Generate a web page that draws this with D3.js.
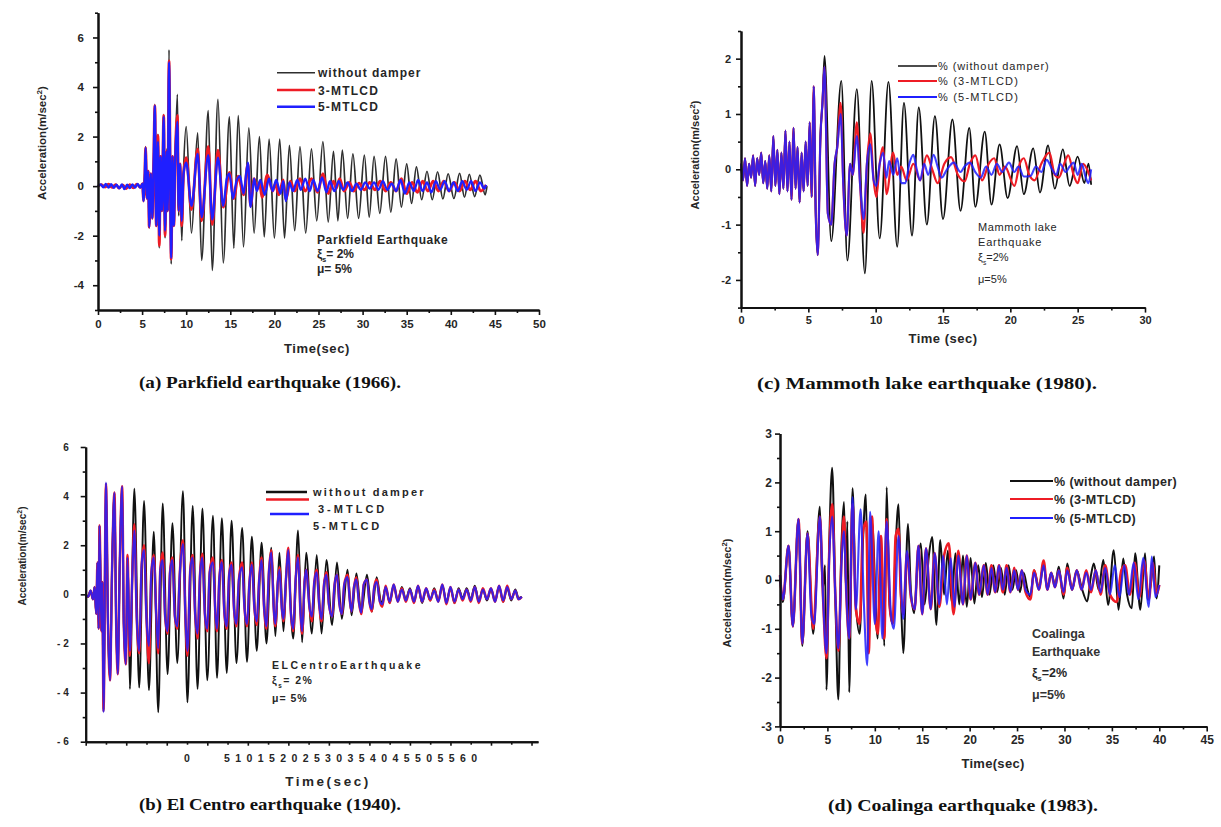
<!DOCTYPE html>
<html><head><meta charset="utf-8">
<script src="https://cdn.jsdelivr.net/npm/d3@7"></script>
<style>
body{margin:0;background:#fff;}
svg text{font-family:"Liberation Sans",Arial,sans-serif;}
svg text.caption{font-family:"Liberation Serif","Times New Roman",serif;}
</style></head><body>
<script>
// ---------- Parkfield earthquake (1966): [time s, acceleration m/s^2] ----------
const parkfieldBare = [[0,0],[0.4,0.06],[0.8,-0.04],[1.2,0.08],[1.6,-0.05],[2.0,0.06],[2.4,-0.08],[2.8,0.05],[3.2,-0.1],[3.6,0.06],[4.0,-0.07],[4.4,0.08],[4.8,-0.05],[5.05,0.1],[5.15,-0.6],[5.3,0.4],[5.4,1.6],[5.55,-0.5],[5.7,0.6],[5.8,-1.7],[6.0,0.5],[6.15,-1.3],[6.3,0.8],[6.45,3.3],[6.6,-1.6],[6.8,2.1],[6.95,-2.5],[7.1,1.2],[7.25,-1.0],[7.45,2.9],[7.6,-2.1],[7.8,1.5],[7.9,-1.0],[8.05,5.5],[8.3,-3.15],[8.45,1.2],[8.6,-1.6],[8.75,1.0],[9.0,3.7],[9.15,-1.2],[9.3,0.8],[9.5,-2.2],[9.7,0.6],[10.0,2.4],[10.6,-1.9],[11.3,2.15],[11.75,-3.0],[12.5,3.05],[12.95,-3.4],[13.6,3.5],[14.2,-3.1],[14.9,2.8],[15.4,-2.5],[15.9,2.85],[16.5,-2.45],[17.1,2.35],[17.7,-1.9],[18.3,2.0],[18.85,-2.05],[19.4,1.9],[20.0,-2.1],[20.6,1.9],[21.15,-2.1],[21.7,1.65],[22.3,-1.8],[22.9,1.6],[23.55,-1.9],[24.2,1.5],[24.8,-1.4],[25.5,1.8],[26.1,-1.45],[26.7,1.4],[27.2,-1.4],[27.7,1.45],[28.3,-1.3],[28.9,1.3],[29.55,-1.3],[30.2,1.25],[30.75,-1.25],[31.3,1.2],[31.95,-1.1],[32.6,1.2],[33.2,-1.05],[33.8,1.1],[34.4,-0.85],[35.0,0.9],[35.55,-0.7],[36.1,0.78],[36.7,-0.55],[37.3,0.6],[37.9,-0.55],[38.5,0.58],[39.1,-0.52],[39.7,0.5],[40.35,-0.5],[41.0,0.52],[41.55,-0.45],[42.1,0.48],[42.7,-0.42],[43.3,0.44],[43.9,-0.35],[44.1,0.0]];
const parkfield3 = [[0,0],[0.4,0.06],[0.8,-0.04],[1.2,0.08],[1.6,-0.05],[2.0,0.06],[2.4,-0.08],[2.8,0.05],[3.2,-0.1],[3.6,0.06],[4.0,-0.07],[4.4,0.08],[4.8,-0.05],[5.05,0.1],[5.15,-0.6],[5.3,0.4],[5.4,1.55],[5.55,-0.5],[5.7,0.6],[5.8,-1.65],[6.0,0.5],[6.15,-1.3],[6.3,0.8],[6.45,3.25],[6.6,-1.6],[6.8,2.05],[6.95,-2.4],[7.1,1.2],[7.25,-1.0],[7.45,2.85],[7.6,-2.0],[7.8,1.4],[7.9,-1.0],[8.05,5.05],[8.3,-2.95],[8.45,1.2],[8.6,-1.6],[8.75,1.0],[9.0,2.85],[9.15,-1.0],[9.3,0.9],[9.5,-1.6],[9.7,0.5],[10.0,1.15],[10.6,-0.95],[11.3,1.5],[11.75,-1.4],[12.5,1.6],[12.95,-1.55],[13.6,1.45],[14.2,-0.85],[14.9,0.55],[15.4,-0.5],[15.9,0.4],[16.5,-0.35],[17.0,0.9],[17.3,-0.8],[17.7,0.3],[18.1,-0.1],[18.3,0.15],[18.6,-0.45],[19.2,0.45],[19.8,-0.2],[20.1,0.1],[20.5,-0.35],[21.0,0.25],[21.3,-0.55],[21.8,0.2],[22.3,-0.2],[22.9,0.3],[23.5,-0.2],[24.2,0.3],[24.9,-0.25],[25.5,0.5],[26.1,-0.3],[26.7,0.2],[27.0,-0.1],[27.4,0.3],[27.9,-0.2],[28.5,0.15],[29.0,-0.2],[29.6,0.12],[30.2,-0.15],[30.8,0.15],[31.4,-0.15],[32.0,0.2],[32.6,-0.2],[33.2,0.15],[33.8,-0.2],[34.4,0.3],[35.0,-0.3],[35.6,0.15],[36.2,-0.25],[36.8,0.2],[37.4,-0.2],[38.0,0.2],[38.6,-0.2],[39.2,0.2],[39.8,-0.2],[40.4,0.15],[41.0,-0.2],[41.6,0.2],[42.2,-0.15],[42.8,0.2],[43.4,-0.2],[44.0,0.05]];
const parkfield5 = [[0,0],[0.3,0.07],[0.6,-0.05],[0.9,0.09],[1.2,-0.06],[1.5,0.08],[1.8,-0.07],[2.1,0.06],[2.4,-0.09],[2.7,0.07],[3.0,-0.12],[3.3,0.06],[3.6,-0.08],[3.9,0.07],[4.2,-0.06],[4.5,0.09],[4.8,-0.06],[5.05,0.1],[5.15,-0.6],[5.3,0.4],[5.4,1.55],[5.55,-0.5],[5.7,0.6],[5.8,-1.65],[6.0,0.5],[6.15,-1.3],[6.3,0.8],[6.45,3.25],[6.6,-1.6],[6.8,1.8],[6.95,-2.0],[7.1,1.2],[7.25,-1.0],[7.45,2.8],[7.6,-1.8],[7.8,1.4],[7.9,-1.0],[8.05,5.0],[8.3,-2.9],[8.45,1.2],[8.6,-1.6],[8.75,1.0],[9.0,2.6],[9.15,-1.0],[9.3,0.9],[9.5,-1.4],[9.7,0.5],[10.0,0.95],[10.6,-0.8],[11.3,1.3],[11.75,-1.25],[12.5,1.25],[12.95,-1.35],[13.6,1.15],[14.2,-0.8],[14.6,0.3],[14.9,0.5],[15.3,-0.5],[15.7,0.2],[16.1,0.4],[16.5,-0.3],[17.0,0.95],[17.3,-0.85],[17.7,0.3],[18.0,-0.2],[18.4,0.25],[18.9,-0.35],[19.4,0.3],[19.8,-0.2],[20.2,0.25],[20.7,-0.3],[21.0,0.2],[21.3,-0.6],[21.7,0.15],[22.1,-0.2],[22.6,0.25],[23.0,-0.15],[23.5,0.3],[24.0,-0.2],[24.4,0.25],[24.9,-0.2],[25.4,0.35],[25.9,-0.25],[26.3,0.2],[26.8,-0.2],[27.3,0.2],[27.8,-0.15],[28.3,0.15],[28.8,-0.2],[29.3,0.1],[29.8,-0.15],[30.3,0.15],[30.8,-0.1],[31.3,0.15],[31.8,-0.15],[32.3,0.2],[32.8,-0.15],[33.3,0.1],[33.8,-0.2],[34.3,0.25],[34.8,-0.3],[35.3,0.15],[35.8,-0.2],[36.3,0.25],[36.8,-0.2],[37.3,0.15],[37.8,-0.25],[38.3,0.2],[38.8,-0.15],[39.3,0.2],[39.8,-0.2],[40.3,0.15],[40.8,-0.2],[41.3,0.2],[41.8,-0.15],[42.3,0.2],[42.8,-0.2],[43.3,0.15],[43.8,-0.1],[44.0,0.05]];
const parkfieldXTicks = [0,5,10,15,20,25,30,35,40,45,50];
const parkfieldYTicks = [-4,-2,0,2,4,6];

// ---------- El Centro earthquake (1940) ----------
const elCentroBare = [[0,0],[0.3,-0.1],[0.6,0.15],[0.9,-0.2],[1.1,0.3],[1.3,-0.8],[1.45,1.3],[1.6,-1.4],[1.7,2.8],[1.95,-1.5],[2.05,0.5],[2.2,-4.7],[2.5,4.4],[2.75,-1.2],[3.0,-3.5],[3.25,1.0],[3.55,4.1],[3.75,-1.0],[3.95,-3.2],[4.2,1.2],[4.5,4.3],[4.7,-1.2],[4.95,-2.8],[5.2,1.4],[5.45,-3.85],[6.0,4.3],[6.6,-3.8],[7.2,3.8],[7.8,-3.9],[8.4,2.55],[8.95,-4.8],[9.5,3.7],[10.1,-3.25],[10.7,2.9],[11.3,-2.8],[12.0,4.2],[12.55,-4.4],[13.2,3.6],[13.8,-3.85],[14.4,3.5],[15.0,-3.5],[15.7,3.2],[16.2,-3.4],[16.8,3.1],[17.4,-3.2],[18.0,3.0],[18.6,-2.8],[19.3,2.7],[19.9,-2.75],[20.5,2.35],[21.1,-2.3],[21.7,2.1],[22.3,-2.0],[22.9,1.9],[23.4,-1.7],[23.9,1.7],[24.4,-1.5],[24.9,1.5],[25.6,-1.8],[26.2,2.6],[26.7,-1.95],[27.2,1.7],[27.9,-1.6],[28.5,1.6],[29.1,-1.6],[29.7,1.4],[30.4,-1.25],[31.0,1.3],[31.6,-1.0],[32.3,1.0],[32.8,-0.85],[33.4,0.85],[34.0,-0.75],[34.7,0.8],[35.3,-0.7],[35.9,0.7],[36.5,-0.4],[37.0,0.3],[37.5,-0.35],[38.0,0.35],[38.5,-0.25],[39.0,0.3],[39.5,-0.2],[40.0,0.25],[40.5,-0.3],[41.0,0.3],[41.5,-0.35],[42.0,0.2],[42.5,-0.25],[43.0,0.25],[43.5,-0.25],[44.0,0.35],[44.5,-0.3],[45.0,0.25],[45.5,-0.35],[46.0,0.25],[46.5,-0.15],[47.0,0.25],[47.5,-0.2],[48.0,0.35],[48.5,-0.25],[49.0,0.2],[49.5,-0.25],[50.0,0.2],[50.5,-0.25],[51.0,0.3],[51.5,-0.3],[52.0,0.25],[52.5,-0.25],[53.0,0.2],[53.4,-0.15],[53.8,-0.1]];
const elCentro3 = [[0,0],[0.3,-0.1],[0.6,0.15],[0.9,-0.2],[1.1,0.3],[1.3,-0.8],[1.45,1.3],[1.6,-1.4],[1.7,2.8],[1.95,-1.5],[2.05,0.5],[2.2,-4.75],[2.5,4.5],[2.75,-1.2],[3.0,-3.5],[3.25,1.0],[3.55,4.15],[3.75,-1.0],[3.95,-3.25],[4.2,1.2],[4.5,4.4],[4.7,-1.2],[4.95,-2.85],[5.15,1.6],[5.45,-2.5],[5.75,0.8],[6.0,2.85],[6.3,-1.0],[6.6,-2.4],[6.9,1.2],[7.2,2.0],[7.5,-1.0],[7.8,-2.8],[8.1,0.9],[8.4,1.6],[8.7,-0.8],[8.95,-2.4],[9.2,1.0],[9.5,1.7],[9.8,-0.9],[10.1,-1.6],[10.4,0.9],[10.7,1.5],[11.0,-0.9],[11.3,-1.4],[11.6,0.8],[12.0,2.2],[12.3,-0.9],[12.55,-2.5],[12.9,1.0],[13.2,1.6],[13.5,-0.8],[13.8,-1.8],[14.1,0.8],[14.4,1.65],[14.7,-0.8],[15.0,-1.5],[15.3,0.9],[15.7,1.5],[16.0,-0.8],[16.2,-1.5],[16.5,0.7],[16.8,1.4],[17.1,-0.7],[17.4,-1.4],[17.7,0.8],[18.0,1.3],[18.3,-0.6],[18.6,-1.3],[18.9,0.6],[19.3,1.3],[19.6,-0.6],[19.9,-1.3],[20.2,0.5],[20.5,1.3],[20.8,-0.5],[21.1,-1.25],[21.4,0.6],[21.7,1.5],[22.0,-0.5],[22.3,-1.4],[22.6,0.9],[22.9,1.8],[23.2,-0.6],[23.4,-1.3],[23.7,0.5],[23.9,1.1],[24.2,-0.6],[24.4,-1.1],[24.7,0.6],[25.0,1.9],[25.3,-0.7],[25.6,-1.5],[25.9,0.6],[26.2,1.6],[26.5,-0.8],[26.7,-1.6],[27.0,0.5],[27.2,1.0],[27.6,-0.5],[27.9,-1.1],[28.2,0.5],[28.5,1.0],[28.8,-0.4],[29.1,-1.1],[29.4,0.4],[29.7,0.9],[30.0,-0.4],[30.4,-0.9],[30.7,0.4],[31.0,0.8],[31.3,-0.4],[31.6,-0.8],[31.9,0.4],[32.3,0.8],[32.6,-0.3],[32.8,-0.7],[33.1,0.3],[33.4,0.7],[33.7,-0.3],[34.0,-0.8],[34.3,0.4],[34.7,0.6],[35.0,-0.3],[35.3,-0.7],[35.6,0.3],[35.9,0.6],[36.3,-0.3],[36.6,-0.5],[37.0,0.35],[37.5,-0.35],[38.0,0.4],[38.5,-0.3],[39.0,0.25],[39.5,-0.3],[40.0,0.2],[40.5,-0.35],[41.0,0.35],[41.5,-0.3],[42.0,0.25],[42.5,-0.25],[43.0,0.2],[43.5,-0.3],[44.0,0.4],[44.5,-0.4],[45.0,0.3],[45.5,-0.35],[46.0,0.2],[46.5,-0.25],[47.0,0.2],[47.5,-0.3],[48.0,0.3],[48.5,-0.35],[49.0,0.25],[49.5,-0.2],[50.0,0.25],[50.5,-0.3],[51.0,0.35],[51.5,-0.3],[52.0,0.35],[52.5,-0.2],[53.0,0.15],[53.4,-0.2],[53.8,-0.1]];
const elCentro5 = [[0,0],[0.3,-0.1],[0.6,0.15],[0.9,-0.2],[1.1,0.3],[1.3,-0.8],[1.45,1.3],[1.6,-1.4],[1.7,2.8],[1.95,-1.5],[2.05,0.5],[2.2,-4.8],[2.5,4.55],[2.75,-1.2],[3.0,-3.5],[3.25,1.0],[3.55,4.15],[3.75,-1.0],[3.95,-3.25],[4.2,1.2],[4.5,4.4],[4.7,-1.2],[4.95,-2.85],[5.15,1.5],[5.45,-2.3],[5.75,0.8],[6.0,2.6],[6.3,-1.0],[6.6,-2.3],[6.9,1.2],[7.2,1.8],[7.5,-1.0],[7.8,-2.1],[8.1,0.9],[8.4,1.5],[8.7,-0.8],[8.95,-2.2],[9.2,1.0],[9.5,1.4],[9.8,-0.9],[10.1,-1.5],[10.4,0.9],[10.7,1.4],[11.0,-0.9],[11.3,-1.3],[11.6,0.8],[12.0,2.05],[12.3,-0.9],[12.55,-2.3],[12.9,1.0],[13.2,1.5],[13.5,-0.8],[13.8,-1.6],[14.1,0.8],[14.4,1.5],[14.7,-0.8],[15.0,-1.4],[15.3,0.9],[15.7,1.3],[16.0,-0.8],[16.2,-1.4],[16.5,0.7],[16.8,1.3],[17.1,-0.7],[17.4,-1.3],[17.7,0.8],[18.0,1.2],[18.3,-0.6],[18.6,-1.2],[18.9,0.6],[19.3,1.1],[19.6,-0.6],[19.9,-1.2],[20.2,0.5],[20.5,1.2],[20.8,-0.5],[21.1,-1.1],[21.4,0.6],[21.7,1.4],[22.0,-0.5],[22.3,-1.3],[22.6,0.9],[22.9,1.7],[23.2,-0.6],[23.4,-1.2],[23.7,0.5],[23.9,1.0],[24.2,-0.6],[24.4,-1.0],[24.7,0.6],[25.0,1.8],[25.3,-0.7],[25.6,-1.4],[25.9,0.6],[26.2,1.5],[26.5,-0.8],[26.7,-1.5],[27.0,0.5],[27.2,1.0],[27.6,-0.5],[27.9,-0.9],[28.2,0.5],[28.5,0.9],[28.8,-0.4],[29.1,-1.0],[29.4,0.4],[29.7,0.8],[30.0,-0.4],[30.4,-0.9],[30.7,0.4],[31.0,0.8],[31.3,-0.4],[31.6,-0.8],[31.9,0.4],[32.3,0.7],[32.6,-0.3],[32.8,-0.7],[33.1,0.3],[33.4,0.6],[33.7,-0.3],[34.0,-0.75],[34.3,0.4],[34.7,0.6],[35.0,-0.3],[35.3,-0.6],[35.6,0.3],[35.9,0.5],[36.3,-0.3],[36.6,-0.4],[37.0,0.3],[37.5,-0.3],[38.0,0.4],[38.5,-0.3],[39.0,0.2],[39.5,-0.25],[40.0,0.2],[40.5,-0.3],[41.0,0.35],[41.5,-0.3],[42.0,0.25],[42.5,-0.2],[43.0,0.15],[43.5,-0.3],[44.0,0.4],[44.5,-0.35],[45.0,0.3],[45.5,-0.3],[46.0,0.2],[46.5,-0.2],[47.0,0.2],[47.5,-0.25],[48.0,0.3],[48.5,-0.3],[49.0,0.2],[49.5,-0.2],[50.0,0.25],[50.5,-0.3],[51.0,0.35],[51.5,-0.25],[52.0,0.3],[52.5,-0.2],[53.0,0.15],[53.4,-0.2],[53.8,-0.1]];
const elCentroTickLabels = ["0","5","10","15","20","25","30","35","40","45","50","55","60"];
const elCentroYTicks = [-6,-4,-2,0,2,4,6];

// ---------- Mammoth lake earthquake (1980) ----------
const mammothEarly = [[0,0.1],[0.15,-0.2],[0.3,0.2],[0.45,-0.3],[0.6,0.1],[0.75,-0.15],[0.9,0.25],[1.05,-0.3],[1.2,0.2],[1.35,-0.1],[1.5,0.3],[1.65,-0.25],[1.8,0.15],[1.95,-0.35],[2.1,0.25],[2.25,-0.4],[2.4,0.6],[2.55,-0.3],[2.7,0.35],[2.85,-0.45],[3.0,0.3],[3.15,-0.35],[3.3,0.7],[3.45,-0.4],[3.6,0.5],[3.75,-0.55],[3.9,0.75],[4.05,-0.35],[4.2,0.4],[4.35,-0.6],[4.5,0.3],[4.65,-0.4],[4.8,0.5],[4.95,-0.3],[5.1,0.85],[5.25,-0.5],[5.4,1.5],[5.55,-0.8],[5.7,-1.55],[5.9,0.6],[6.05,1.2]];
const mammothBare = [[6.2,2.05],[6.7,-1.3],[7.45,1.6],[7.9,-1.65],[8.6,1.45],[9.2,-1.88],[9.7,1.6],[10.3,-1.25],[10.95,1.58],[11.6,-1.4],[12.1,1.2],[12.7,-1.2],[13.2,1.12],[13.8,-1.0],[14.4,0.96],[15.0,-0.9],[15.7,0.9],[16.3,-0.75],[16.95,0.75],[17.4,-0.68],[18.1,0.68],[18.6,-0.64],[19.2,0.45],[19.8,-0.52],[20.5,0.42],[21.0,-0.45],[21.7,0.38],[22.2,-0.42],[22.8,0.43],[23.3,-0.35],[23.9,0.36],[24.4,-0.3],[25.0,0.23],[25.5,-0.25],[25.8,0.1],[26.0,-0.28]];
const mammoth3 = [[6.2,1.85],[6.45,-0.8],[6.7,-1.0],[6.95,0.1],[7.15,0.4],[7.4,1.2],[7.6,-0.3],[7.85,-1.2],[8.1,0.1],[8.3,-0.1],[8.6,0.85],[8.85,-0.3],[9.1,-1.15],[9.35,0.1],[9.6,0.65],[9.85,-0.2],[10.05,-0.5],[10.3,0.1],[10.55,0.4],[10.8,-0.45],[11.3,0.3],[11.6,-0.1],[11.9,0.05],[12.3,-0.2],[12.8,0.1],[13.3,-0.2],[13.8,0.25],[14.2,0.0],[14.6,-0.25],[15.1,0.1],[15.6,0.22],[16.1,-0.1],[16.6,-0.22],[17.0,0.1],[17.4,0.25],[17.9,-0.2],[18.4,0.1],[18.8,0.2],[19.2,-0.1],[19.6,0.05],[20.3,-0.3],[20.7,0.1],[21.0,0.2],[21.4,-0.1],[21.8,-0.2],[22.3,0.1],[22.9,0.3],[23.3,-0.1],[23.6,-0.15],[24.0,0.1],[24.3,0.25],[24.7,-0.1],[25.0,-0.25],[25.4,0.1],[25.7,0.0],[26.0,-0.2]];
const mammoth5 = [[6.2,1.85],[6.45,-0.8],[6.7,-1.0],[6.95,0.1],[7.15,0.4],[7.4,1.0],[7.6,-0.3],[7.85,-1.2],[8.1,0.1],[8.3,-0.1],[8.6,0.6],[8.85,-0.3],[9.1,-0.9],[9.35,0.1],[9.6,0.45],[9.85,-0.2],[10.05,-0.3],[10.3,0.1],[10.55,0.3],[10.8,-0.15],[11.0,0.15],[11.3,-0.1],[11.6,0.2],[11.9,-0.25],[12.2,-0.25],[12.5,0.1],[12.8,0.26],[13.05,0.0],[13.3,-0.2],[13.6,0.1],[13.9,-0.1],[14.3,0.26],[14.6,0.05],[14.9,-0.15],[15.3,0.0],[15.8,0.12],[16.3,-0.05],[16.6,0.05],[17.0,0.12],[17.4,-0.05],[17.8,-0.15],[18.2,0.05],[18.6,-0.1],[19.0,0.1],[19.4,-0.05],[19.9,0.12],[20.3,-0.05],[20.6,0.05],[21.0,-0.13],[21.5,-0.12],[21.9,0.05],[22.3,-0.05],[22.7,0.17],[23.1,0.0],[23.4,-0.1],[23.7,0.1],[24.1,-0.05],[24.4,0.05],[24.7,0.12],[25.0,-0.1],[25.3,0.1],[25.6,-0.15],[25.8,-0.25],[26.0,0.0]];
const mammothXTicks = [0,5,10,15,20,25,30];
const mammothYTicks = [-2,-1,0,1,2];

// ---------- Coalinga earthquake (1983) ----------
const coalingaBare = [[0,0.1],[0.3,-0.45],[0.9,0.7],[1.35,-0.95],[1.95,1.25],[2.35,-1.35],[2.9,1.0],[3.5,-1.1],[4.2,1.5],[4.5,-0.2],[4.75,0.3],[4.9,-2.25],[5.2,0.8],[5.5,2.3],[5.85,-0.5],[6.15,-2.45],[6.45,0.5],[6.75,1.6],[6.95,-0.2],[7.1,1.2],[7.3,-2.3],[7.65,1.88],[8.0,-0.5],[8.4,-1.1],[8.75,0.8],[9.05,1.75],[9.35,-1.0],[9.7,1.2],[10.3,-1.2],[10.65,0.6],[11.0,-1.35],[11.25,1.9],[11.55,-0.5],[11.9,-0.9],[12.2,0.7],[12.5,1.55],[12.75,-0.3],[13.0,-1.5],[13.5,1.15],[13.8,-0.2],[14.15,-0.68],[14.5,0.3],[14.85,0.75],[15.25,-0.5],[15.7,0.5],[16.05,0.88],[16.5,-0.92],[16.9,0.82],[17.3,-0.3],[17.7,0.6],[18.1,-0.45],[18.5,0.55],[18.9,-0.5],[19.3,0.5],[19.7,-0.55],[20.1,0.45],[20.5,-0.48],[20.9,0.3],[21.3,-0.35],[21.7,0.35],[22.1,-0.3],[22.5,0.3],[22.9,-0.25],[23.3,0.25],[23.7,-0.3],[24.1,0.3],[24.5,-0.2],[24.9,0.2],[25.3,-0.25],[25.7,0.15],[26.1,-0.2],[26.4,-0.35],[26.8,0.2],[27.3,-0.15],[27.8,0.3],[28.2,-0.2],[28.6,0.15],[29.0,-0.1],[29.4,0.27],[29.9,-0.38],[30.3,0.34],[30.8,-0.2],[31.3,0.2],[31.8,-0.15],[32.4,-0.44],[32.8,0.1],[33.1,0.34],[33.6,-0.2],[34.1,0.41],[34.6,-0.51],[35.2,0.61],[35.7,-0.61],[36.2,0.44],[36.6,-0.3],[37.1,-0.58],[37.45,0.55],[38.0,-0.61],[38.5,0.55],[38.75,-0.4],[39.1,-0.1],[39.45,0.48],[39.7,-0.38],[40.0,0.3]];
const coalinga3 = [[0,0.1],[0.3,-0.4],[0.9,0.7],[1.35,-0.95],[1.95,1.25],[2.35,-1.3],[2.9,0.95],[3.5,-1.0],[4.2,1.3],[4.55,-0.4],[4.9,-1.6],[5.2,0.6],[5.5,1.55],[5.85,-0.4],[6.15,-1.45],[6.5,0.5],[6.75,1.3],[7.0,-0.3],[7.3,-1.2],[7.65,1.55],[8.0,-0.6],[8.4,-0.9],[8.75,1.0],[9.1,1.2],[9.35,-1.5],[9.7,1.3],[10.0,-0.6],[10.3,-1.1],[10.65,0.9],[11.0,-1.2],[11.25,1.25],[11.6,-0.6],[11.9,-0.9],[12.2,0.9],[12.5,1.05],[12.75,-0.3],[13.0,-0.7],[13.4,0.55],[13.8,-0.35],[14.2,-0.6],[14.6,0.7],[15.0,-0.7],[15.4,0.65],[15.9,-0.6],[16.3,0.55],[16.8,-0.55],[17.3,0.5],[17.8,0.75],[18.3,-0.7],[18.8,0.6],[19.3,-0.5],[19.7,0.5],[20.1,-0.4],[20.6,0.35],[21.0,-0.3],[21.5,0.3],[21.9,-0.3],[22.3,0.3],[22.7,-0.25],[23.1,0.3],[23.5,-0.25],[23.9,0.3],[24.3,-0.25],[24.7,0.25],[25.1,-0.2],[25.5,0.2],[25.9,-0.25],[26.4,-0.4],[26.8,0.2],[27.3,-0.2],[27.8,0.4],[28.2,-0.2],[28.6,0.15],[29.0,-0.15],[29.4,0.2],[29.9,-0.3],[30.3,0.25],[30.8,-0.2],[31.3,0.2],[31.8,-0.2],[32.3,0.2],[32.8,-0.25],[33.3,0.2],[33.8,-0.3],[34.3,0.3],[34.8,-0.3],[35.5,-0.45],[36.0,0.2],[36.4,0.3],[36.9,-0.3],[37.4,0.35],[37.9,-0.35],[38.4,0.4],[38.9,-0.4],[39.3,0.35],[39.7,-0.3],[40.0,-0.1]];
const coalinga5 = [[0,0.1],[0.3,-0.4],[0.9,0.7],[1.35,-0.95],[1.95,1.25],[2.35,-1.3],[2.9,0.95],[3.3,-0.7],[3.6,-0.9],[4.2,1.3],[4.55,-0.4],[4.9,-1.5],[5.2,0.5],[5.5,1.3],[5.85,-0.4],[6.15,-1.4],[6.5,0.4],[6.75,1.0],[7.0,-0.3],[7.3,-1.2],[7.65,1.7],[8.0,-0.6],[8.5,1.45],[8.85,-0.5],[9.2,-1.75],[9.5,1.4],[10.0,-0.9],[10.4,1.0],[10.8,-1.2],[11.25,1.2],[11.7,-0.7],[12.0,-1.0],[12.5,0.9],[13.0,-0.8],[13.4,0.6],[13.8,-0.3],[14.2,-0.6],[14.6,0.7],[15.0,-0.7],[15.4,0.65],[15.9,-0.6],[16.3,0.55],[16.8,-0.5],[17.2,0.5],[17.6,-0.5],[18.0,0.45],[18.4,-0.55],[18.8,0.5],[19.3,-0.5],[19.7,0.5],[20.1,-0.4],[20.6,0.35],[21.0,-0.3],[21.5,0.3],[21.9,-0.3],[22.3,0.25],[22.7,-0.25],[23.1,0.3],[23.5,-0.2],[23.9,0.25],[24.3,-0.25],[24.7,0.2],[25.1,-0.2],[25.5,0.2],[25.9,-0.2],[26.4,-0.3],[26.8,0.15],[27.3,-0.2],[27.8,0.3],[28.2,-0.2],[28.6,0.15],[29.0,-0.15],[29.4,0.2],[29.9,-0.25],[30.3,0.2],[30.8,-0.2],[31.3,0.2],[31.8,-0.2],[32.3,0.15],[32.8,-0.2],[33.3,0.2],[33.8,-0.25],[34.3,0.25],[34.8,-0.3],[35.3,0.3],[35.8,-0.35],[36.3,0.3],[36.8,-0.3],[37.3,0.35],[37.8,-0.4],[38.3,0.45],[38.9,-0.55],[39.2,0.48],[39.6,-0.35],[40.0,-0.1]];
const coalingaXTicks = [0,5,10,15,20,25,30,35,40,45];
const coalingaYTicks = [-3,-2,-1,0,1,2,3];

// ---------- drawing ----------
const svg = d3.select("body").append("svg").attr("width",1221).attr("height",827);
const INK = "#262626";

function drawPanel(p){
  const x = d3.scaleLinear().domain(p.xDomain).range([p.left,p.right]);
  const y = d3.scaleLinear().domain(p.yDomain).range([p.bottom,p.top]);
  const g = svg.append("g");
  const line = d3.line().x(d=>x(d[0])).y(d=>y(d[1])).curve(d3.curveMonotoneX);
  p.series.forEach(s=>{
    g.append("path").datum(s.data).attr("d",line)
      .attr("fill","none").attr("stroke",s.color).attr("stroke-width",s.width)
      .attr("stroke-opacity",s.opacity||1).attr("stroke-linejoin","round");
  });
  const ax = g.append("g");
  ax.append("g").attr("transform",`translate(0,${p.bottom})`)
    .call(d3.axisBottom(x).tickValues(p.xMinor).tickSize(3).tickSizeOuter(0).tickFormat(""));
  ax.append("g").attr("transform",`translate(0,${p.bottom})`)
    .call(d3.axisBottom(x).tickValues(p.xMajor).tickSize(p.xMajorSize||5).tickSizeOuter(0)
      .tickPadding(p.xPad).tickFormat(p.xFormat||(d=>d)));
  ax.append("g").attr("transform",`translate(${p.left},0)`)
    .call(d3.axisLeft(y).tickValues(p.yMinor).tickSize(3).tickSizeOuter(0).tickFormat(""));
  ax.append("g").attr("transform",`translate(${p.left},0)`)
    .call(d3.axisLeft(y).tickValues(p.yMajor).tickSize(5).tickSizeOuter(0)
      .tickPadding(p.yPad).tickFormat(p.yFormat||(d=>d)));
  ax.selectAll("path.domain").attr("stroke","#111").attr("stroke-width",2);
  ax.selectAll(".tick line").attr("stroke","#111").attr("stroke-width",1.6);
  ax.selectAll(".tick text").attr("fill",INK).attr("font-weight","bold")
    .attr("font-size",p.tickFont).attr("letter-spacing",p.tickSpacing||0);
  return {x,y,g};
}

function txt(x,y,s,o={}){
  return svg.append("text").attr("x",x).attr("y",y).text(s)
    .attr("font-size",o.size||12).attr("font-weight",o.weight||"bold")
    .attr("fill",o.fill||INK).attr("letter-spacing",o.ls||0)
    .attr("text-anchor",o.anchor||"start");
}
function yTitle(cx,cy,size,ls){
  const t = svg.append("text").attr("transform",`translate(${cx},${cy}) rotate(-90)`)
    .attr("text-anchor","middle").attr("font-size",size).attr("font-weight","bold")
    .attr("fill",INK).attr("letter-spacing",ls||0);
  t.append("tspan").text("Acceleration(m/sec");
  t.append("tspan").attr("dy",-4).attr("font-size",size*0.7).text("2");
  t.append("tspan").attr("dy",4).text(")");
}
function xiLine(x,y,val,o){
  const t = svg.append("text").attr("x",x).attr("y",y).attr("font-size",o.size)
    .attr("font-weight",o.weight||"bold").attr("fill",INK).attr("letter-spacing",o.ls||0);
  t.append("tspan").text("ξ");
  t.append("tspan").attr("dy",4).attr("font-size",o.size*0.6).text("s");
  t.append("tspan").attr("dy",-4).text(val);
}
function legendLine(x1,x2,y,color,w,op){
  svg.append("line").attr("x1",x1).attr("x2",x2).attr("y1",y).attr("y2",y)
    .attr("stroke",color).attr("stroke-width",w).attr("stroke-opacity",op||1);
}
function caption(cx,y,s,len){
  svg.append("text").attr("class","caption").attr("x",cx).attr("y",y).attr("text-anchor","middle")
    .attr("font-weight","bold").attr("font-size",16).attr("fill","#111")
    .attr("textLength",len).attr("lengthAdjust","spacingAndGlyphs").text(s);
}

const BLACK_A = "#2e2e2e", BLACK = "#111", RED = "#ee1c25", BLUE = "#1f1fff";

// (a) Parkfield
drawPanel({
  left:98,right:539,top:12.7,bottom:310,xDomain:[0,50],yDomain:[-5,7],
  xMajor:parkfieldXTicks,xMinor:d3.range(2.5,50,5),
  yMajor:parkfieldYTicks,yMinor:[-5,-3,-1,1,3,5,7],
  xPad:5,yPad:9,tickFont:11.5,
  series:[{data:parkfieldBare,color:BLACK_A,width:1.7},
          {data:parkfield3,color:RED,width:2.8},
          {data:parkfield5,color:BLUE,width:2.3}]
});
txt(317,353,"Time(sec)",{size:13,anchor:"middle",ls:0.6});
yTitle(46,143,11.5);
legendLine(277,315,72.7,BLACK_A,1.6); legendLine(277,315,90,RED,2.6); legendLine(277,315,106.7,BLUE,2.4);
txt(318,77,"without damper",{size:12,ls:1});
txt(318,94.5,"3-MTLCD",{size:12,ls:1.2});
txt(318,111,"5-MTLCD",{size:12,ls:1.2});
txt(317,243.5,"Parkfield Earthquake",{size:12,ls:0.6});
xiLine(317,257.5,"= 2%",{size:12});
txt(317,272.5,"μ= 5%",{size:12});
caption(270,388,"(a) Parkfield earthquake (1966).",262);

// (c) Mammoth lake
drawPanel({
  left:741,right:1145,top:31,bottom:307.6,xDomain:[0,30],yDomain:[-2.5,2.5],
  xMajor:mammothXTicks,xMinor:d3.range(2.5,30,5),
  yMajor:mammothYTicks,yMinor:[-2.5,-1.5,-0.5,0.5,1.5,2.5],
  xPad:4,yPad:5,tickFont:11,
  series:[{data:mammothEarly.concat(mammothBare),color:BLACK,width:1.8},
          {data:mammothEarly.concat(mammoth3),color:RED,width:2.2},
          {data:mammothEarly.concat(mammoth5),color:BLUE,width:2.1,opacity:0.85}]
});
txt(943,343,"Time (sec)",{size:13,anchor:"middle",ls:0.5});
yTitle(699,155,11);
legendLine(898,937,66,BLACK,1.6); legendLine(898,937,81,RED,1.8); legendLine(898,937,97,BLUE,1.8);
txt(938,70,"% (without damper)",{size:11,weight:"normal",ls:0.9});
txt(938,85,"% (3-MTLCD)",{size:11,weight:"normal",ls:1.2});
txt(938,101,"% (5-MTLCD)",{size:11,weight:"normal",ls:1.2});
txt(978,231,"Mammoth lake",{size:11,weight:"normal",ls:0.6});
txt(978,245.5,"Earthquake",{size:11,weight:"normal",ls:0.8});
xiLine(978,261,"=2%",{size:11,weight:"normal"});
txt(978,283,"μ=5%",{size:11,weight:"normal"});
caption(927,389,"(c) Mammoth lake earthquake (1980).",340);

// (b) El Centro
const elc = drawPanel({
  left:85.7,right:538,top:447,bottom:741.7,xDomain:[0,55.8],yDomain:[-6,6],
  xMajor:d3.range(0,56,5),xMajorSize:4,xMinor:d3.range(2.5,56,5),xFormat:()=>"",
  yMajor:elCentroYTicks,yMinor:[-5,-3,-1,1,3,5],yFormat:d=>d<0?"- "+Math.abs(d):d,
  xPad:4,yPad:12,tickFont:10,
  series:[{data:elCentroBare,color:BLACK,width:1.9},
          {data:elCentro3,color:RED,width:2.5},
          {data:elCentro5,color:BLUE,width:2.1,opacity:0.85}]
});
txt(elc.x(12.5),761.5,elCentroTickLabels[0],{size:10.5,anchor:"middle"});
svg.append("text").attr("x",224).attr("y",761.5).attr("font-size",10.5).attr("font-weight","bold")
  .attr("fill",INK).attr("textLength",253).attr("lengthAdjust","spacing")
  .text(elCentroTickLabels.slice(1).join(""));
txt(328,786,"Time(sec)",{size:13.5,anchor:"middle",ls:2.5});
yTitle(26,556,10);
legendLine(266,307,492,BLACK,2.6); legendLine(266,309,499.5,RED,2.6); legendLine(270,309,514,BLUE,2.6);
txt(313,496,"without damper",{size:11,ls:2.2});
txt(318,513,"3-MTLCD",{size:11,ls:3});
txt(313,530,"5-MTLCD",{size:11,ls:3});
txt(272,669,"ELCentroEarthquake",{size:10.5,ls:2.6});
xiLine(272,683.5,"= 2%",{size:10.5,ls:1.5});
txt(272,702,"μ= 5%",{size:10.5,ls:1});
caption(270,810,"(b) El Centro earthquake (1940).",262);

// (d) Coalinga
drawPanel({
  left:780,right:1206.7,top:433.6,bottom:726.4,xDomain:[0,45],yDomain:[-3,3],
  xMajor:coalingaXTicks,xMinor:d3.range(2.5,45,5),
  yMajor:coalingaYTicks,yMinor:[-2.5,-1.5,-0.5,0.5,1.5,2.5],
  xPad:4.5,yPad:3,tickFont:12,
  series:[{data:coalingaBare,color:BLACK,width:2},
          {data:coalinga3,color:RED,width:2.6},
          {data:coalinga5,color:BLUE,width:2.1,opacity:0.85}]
});
txt(993,768,"Time(sec)",{size:13,anchor:"middle",ls:0.3});
yTitle(731,593,11);
legendLine(1010,1053,481,BLACK,2); legendLine(1010,1053,499,RED,2); legendLine(1010,1053,518,BLUE,2);
txt(1054,485.5,"% (without damper)",{size:12.5,ls:0.4});
txt(1054,503.5,"% (3-MTLCD)",{size:12.5,ls:0.4});
txt(1054,522.5,"% (5-MTLCD)",{size:12.5,ls:0.4});
txt(1032,637.5,"Coalinga",{size:12.5,fill:"#333"});
txt(1032,656,"Earthquake",{size:12.5,fill:"#333"});
xiLine(1032,677,"=2%",{size:12.5});
txt(1032,699,"μ=5%",{size:12.5,fill:"#333"});
caption(963,811,"(d) Coalinga earthquake (1983).",270);
</script>
</body></html>
